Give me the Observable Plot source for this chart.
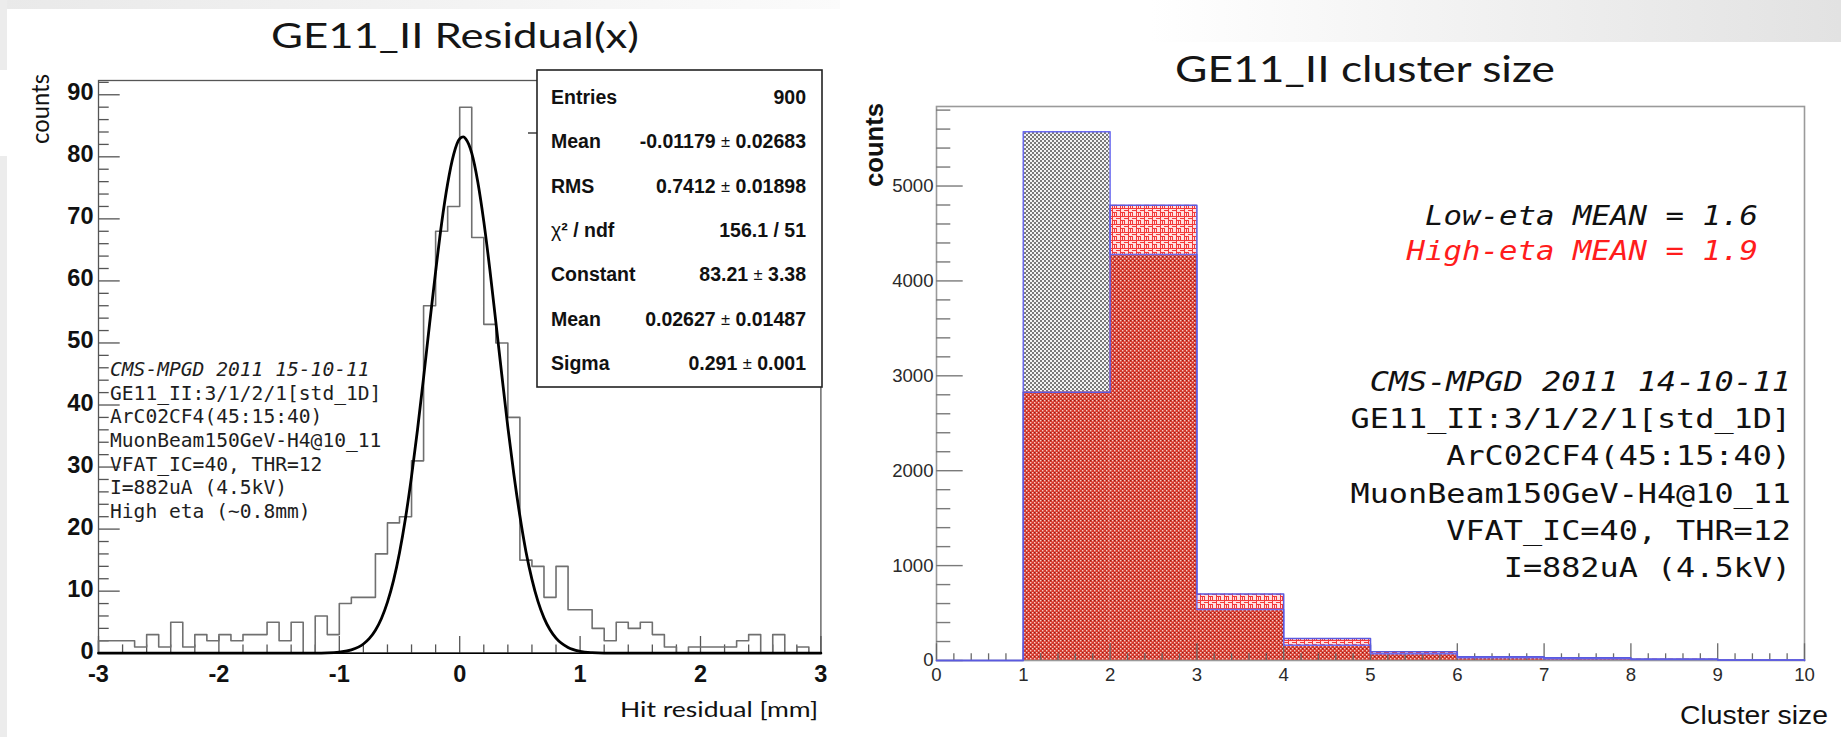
<!DOCTYPE html>
<html>
<head>
<meta charset="utf-8">
<script src="https://cdn.jsdelivr.net/npm/d3@7"></script>
<script src="https://cdn.jsdelivr.net/npm/@observablehq/plot@0.6"></script>
<style>
html,body{margin:0;padding:0;background:#fff;}
#page{position:relative;width:1841px;height:737px;overflow:hidden;background:#fff;}
#bgTopLeft{position:absolute;left:0;top:0;width:840px;height:9px;background:linear-gradient(to right,#e9e9e9,#fbfbfb);}
#bgLeft{position:absolute;left:0;top:0;width:7px;height:737px;background:#ececec;}
#bgTopRight{position:absolute;left:1150px;top:0;width:691px;height:42px;background:linear-gradient(to right,rgba(230,230,230,0),#e2e2e2);}
#page svg{position:absolute;top:0;}
</style>
</head>
<body>
<div id="page">
  <div id="bgTopLeft"></div>
  <div id="bgLeft"></div>
  <div id="bgTopRight"></div>
</div>
<script>
// ---------------- DATA : left panel (hit residual histogram) ----------------
const resBinLow = [-3.0,-2.9,-2.8,-2.7,-2.6,-2.5,-2.4,-2.3,-2.2,-2.1,-2.0,-1.9,-1.8,-1.7,-1.6,-1.5,-1.4,-1.3,-1.2,-1.1,
                   -1.0,-0.9,-0.8,-0.7,-0.6,-0.5,-0.4,-0.3,-0.2,-0.1,0.0,0.1,0.2,0.3,0.4,0.5,0.6,0.7,0.8,0.9,
                   1.0,1.1,1.2,1.3,1.4,1.5,1.6,1.7,1.8,1.9,2.0,2.1,2.2,2.3,2.4,2.5,2.6,2.7,2.8,2.9];
const resCounts = [2,2,2,1,3,1,5,1,3,2, 3,2,3,3,5,2,5,0,6,3,
                   8,9,9,16,21,22,31,56,68,72, 88,67,53,50,38,15,14,9,14,7,
                   7,4,2,5,4,5,3,1,0,1, 1,1,1,2,3,0,3,0,1,0];
const resRangeEnd = 3.0;
// gaussian fit curve
const fitX = [-3,-1.2,-1.1,-1.0,-0.9,-0.8,-0.75,-0.7,-0.65,-0.6,-0.55,-0.5,-0.45,-0.4,-0.35,-0.3,-0.25,-0.2,-0.15,-0.1,
              -0.05,0,0.03,0.05,0.1,0.15,0.2,0.25,0.3,0.35,0.4,0.45,0.5,0.55,0.6,0.65,0.7,0.75,0.8,0.9,1.0,1.1,1.2,3];
const fitY = [0,0.01,0.04,0.17,0.53,1.48,2.38,3.7,5.6,8.23,11.7,16.2,21.8,28.5,36.1,44.4,53.1,61.5,69.3,75.7,
              80.4,82.9,83.2,82.9,80.6,76.0,69.6,61.9,53.4,44.8,36.4,28.8,22.1,16.4,11.9,8.35,5.69,3.77,2.42,0.92,0.31,0.09,0.02,0];
const xTicksLeft = [-3,-2,-1,0,1,2,3];
const yTicksLeft = [0,10,20,30,40,50,60,70,80,90];
const statLabels = ["Entries","Mean","RMS","χ² / ndf","Constant","Mean","Sigma"];
const statValues = ["900","-0.01179 ± 0.02683","0.7412 ± 0.01898","156.1 / 51","83.21 ± 3.38","0.02627 ± 0.01487","0.291 ± 0.001"];
const leftInfo = ["CMS-MPGD 2011 15-10-11","GE11_II:3/1/2/1[std_1D]","ArC02CF4(45:15:40)","MuonBeam150GeV-H4@10_11","VFAT_IC=40, THR=12","I=882uA (4.5kV)","High eta (~0.8mm)"];
const leftTitle = "GE11_II Residual(x)";
const leftXLabel = "Hit residual [mm]";
const leftYLabel = "counts";

// ---------------- DATA : right panel (cluster size) ----------------
const clusterLow  = [0,1,2,3,4,5,6,7,8,9];
const clusterHigh = [1,2,3,4,5,6,7,8,9,10];
const lowEtaCounts  = [0,5572,4279,537,160,70,28,18,10,4];
const highEtaCounts = [0,2828,4797,702,231,93,40,28,15,6];
const xTicksRight = [0,1,2,3,4,5,6,7,8,9,10];
const yTicksRight = [0,1000,2000,3000,4000,5000];
const meanLines = ["Low-eta MEAN = 1.6","High-eta MEAN = 1.9"];
const rightInfo = ["CMS-MPGD 2011 14-10-11","GE11_II:3/1/2/1[std_1D]","ArC02CF4(45:15:40)","MuonBeam150GeV-H4@10_11","VFAT_IC=40, THR=12","I=882uA (4.5kV)"];
const rightTitle = "GE11_II cluster size";
const rightXLabel = "Cluster size";
const rightYLabel = "counts";

// ---------------- derived tables ----------------
const resStep = [{x:-3,y:0}, ...resBinLow.map((e,i)=>({x:e,y:resCounts[i]})), {x:resRangeEnd,y:resCounts[resCounts.length-1]}, {x:resRangeEnd,y:0}];
const fitPts = fitX.map((x,i)=>({x, y:fitY[i]}));
const yMinorLeft = d3.range(0, 92.3, 2).filter(v => v % 10 !== 0);
const xMinorLeft = d3.range(-3, 3.001, 0.2).map(v => +v.toFixed(2)).filter(v => Math.abs(v - Math.round(v)) > 1e-6);

const rowsLow  = clusterLow.map((x1,i)=>({x1, x2:clusterHigh[i], y1:0, y2:lowEtaCounts[i]}));
const rowsHigh = clusterLow.map((x1,i)=>({x1, x2:clusterHigh[i], y1:0, y2:highEtaCounts[i]}));
const rowsOver = clusterLow.map((x1,i)=>({x1, x2:clusterHigh[i], y1:0, y2:Math.min(lowEtaCounts[i], highEtaCounts[i])}));
const stepOf = vals => [{x:0,y:0}, ...clusterLow.map((e,i)=>({x:e,y:vals[i]})), {x:10,y:vals[vals.length-1]}, {x:10,y:0}];
const yMinorRight = d3.range(0, 5838, 200).filter(v => v % 1000 !== 0);
const xMinorRight = d3.range(0, 10.001, 0.2).map(v => +v.toFixed(2)).filter(v => Math.abs(v - Math.round(v)) > 1e-6);

const helv = "Liberation Sans, Arial, Helvetica, sans-serif";
const page = document.getElementById("page");

// ---------------- LEFT PLOT ----------------
const leftPlot = Plot.plot({
  width: 840, height: 737,
  marginLeft: 98, marginRight: 19.6, marginTop: 80, marginBottom: 84.3,
  x: {domain: [-3, 3], axis: null},
  y: {domain: [0, 92.3], axis: null},
  style: {background: "transparent", overflow: "visible"},
  marks: [
    Plot.frame({stroke: "#555", strokeWidth: 1.3}),
    Plot.tickY(yMinorLeft, {y: d => d, stroke: "#555", strokeWidth: 1.3, insetRight: 711.7}),
    Plot.tickY(yTicksLeft, {y: d => d, stroke: "#555", strokeWidth: 1.3, insetRight: 700.7}),
    Plot.tickX(xMinorLeft, {x: d => d, stroke: "#555", strokeWidth: 1.3, insetTop: 564.4}),
    Plot.tickX(xTicksLeft, {x: d => d, stroke: "#555", strokeWidth: 1.3, insetTop: 556}),
    Plot.line(resStep, {x: "x", y: "y", curve: "step-after", stroke: "#707070", strokeWidth: 1.6}),
    Plot.ruleY([0], {stroke: "#000", strokeWidth: 1.5}),
    Plot.line(fitPts, {x: "x", y: "y", curve: "monotone-x", stroke: "#000", strokeWidth: 2.8}),
    Plot.text(yTicksLeft, {x: () => -3, y: d => d, text: d => String(d), textAnchor: "end", dx: -5, dy: -2,
      fontSize: 23.5, fontWeight: "bold", fontFamily: helv, fill: "#111"}),
    Plot.text(xTicksLeft, {x: d => d, y: () => 0, text: d => String(d), dy: 21,
      fontSize: 23.5, fontWeight: "bold", fontFamily: helv, fill: "#111"})
  ]
});
leftPlot.style.left = "0px";
page.appendChild(leftPlot);

// ---------------- RIGHT PLOT ----------------
const rightPlot = Plot.plot({
  width: 1001, height: 737,
  marginLeft: 96, marginRight: 37, marginTop: 106, marginBottom: 77,
  x: {domain: [0, 10], axis: null},
  y: {domain: [0, 5838], axis: null},
  style: {background: "transparent", overflow: "visible"},
  marks: [
    Plot.rect(rowsLow,  {x1: "x1", x2: "x2", y1: "y1", y2: "y2", fill: "url(#grayPat)", inset: 0}),
    Plot.rect(rowsHigh, {x1: "x1", x2: "x2", y1: "y1", y2: "y2", fill: "url(#redPat)", inset: 0}),
    Plot.rect(rowsOver, {x1: "x1", x2: "x2", y1: "y1", y2: "y2", fill: "url(#ovPat)", inset: 0}),
    Plot.frame({stroke: "#9a9a9a", strokeWidth: 1.6}),
    Plot.tickY(yMinorRight, {y: d => d, stroke: "#7a7a7a", strokeWidth: 1.4, insetRight: 853.7}),
    Plot.tickY(yTicksRight, {y: d => d, stroke: "#7a7a7a", strokeWidth: 1.4, insetRight: 841.3}),
    Plot.tickX(xMinorRight, {x: d => d, stroke: "#6a6a6a", strokeWidth: 1.3, insetTop: 547.3}),
    Plot.tickX(xTicksRight, {x: d => d, stroke: "#6a6a6a", strokeWidth: 1.3, insetTop: 537.3}),
    Plot.line(stepOf(lowEtaCounts),  {x: "x", y: "y", curve: "step-after", stroke: "#6b6bf0", strokeWidth: 1.5}),
    Plot.line(stepOf(highEtaCounts), {x: "x", y: "y", curve: "step-after", stroke: "#5a5ae0", strokeWidth: 1.5}),
    Plot.text(yTicksRight, {x: () => 0, y: d => d, text: d => String(d), textAnchor: "end", dx: -3,
      fontSize: 18.6, fontFamily: helv, fill: "#2a2a2a"}),
    Plot.text(xTicksRight, {x: d => d, y: () => 0, text: d => String(d), dy: 15,
      fontSize: 18.6, fontFamily: helv, fill: "#2a2a2a"})
  ]
});
rightPlot.style.left = "840px";
page.appendChild(rightPlot);

// ---------------- OVERLAY (patterns, titles, boxes, annotations) ----------------
const ov = d3.select(page).append("svg")
  .attr("width", 1841).attr("height", 737)
  .style("left", "0px").style("top", "0px").style("pointer-events", "none");
const defs = ov.append("defs");
const gp = defs.append("pattern").attr("id", "grayPat").attr("patternUnits", "userSpaceOnUse").attr("width", 4).attr("height", 4);
gp.append("rect").attr("width", 4).attr("height", 4).attr("fill", "#f4f4f4");
gp.append("rect").attr("width", 2).attr("height", 2).attr("fill", "#7a7a7a");
gp.append("rect").attr("x", 2).attr("y", 2).attr("width", 2).attr("height", 2).attr("fill", "#7a7a7a");
const rp = defs.append("pattern").attr("id", "redPat").attr("patternUnits", "userSpaceOnUse").attr("width", 8).attr("height", 8);
rp.append("rect").attr("width", 8).attr("height", 8).attr("fill", "#ffe0e0");
rp.append("path").attr("d", "M0 0.5H8M0.5 0V8M0 4.5H4M4.5 4V8M4 2.5H8M2.5 4V8").attr("stroke", "#f23a3a").attr("stroke-width", 1).attr("fill", "none");
const op = defs.append("pattern").attr("id", "ovPat").attr("patternUnits", "userSpaceOnUse").attr("width", 4).attr("height", 4);
op.append("rect").attr("width", 4).attr("height", 4).attr("fill", "#d5382c");
op.append("rect").attr("x", 0).attr("y", 0).attr("width", 1.4).attr("height", 1.4).attr("fill", "#f6cdc6");
op.append("rect").attr("x", 2).attr("y", 2).attr("width", 1.4).attr("height", 1.4).attr("fill", "#f6cdc6");
op.append("rect").attr("x", 2).attr("y", 0).attr("width", 1).attr("height", 1).attr("fill", "#8a2218");

function txt(o) {
  const t = ov.append("text")
    .attr("x", o.x).attr("y", o.y)
    .attr("font-family", o.family || helv)
    .attr("font-size", o.size)
    .attr("font-weight", o.weight || "normal")
    .attr("font-style", o.style || "normal")
    .attr("fill", o.fill || "#111")
    .attr("text-anchor", o.anchor || "start")
    .attr("dominant-baseline", o.baseline || "central")
    .style("white-space", "pre")
    .text(o.text);
  if (o.len) t.attr("textLength", o.len).attr("lengthAdjust", "spacingAndGlyphs");
  if (o.rotate) t.attr("transform", `rotate(${o.rotate},${o.x},${o.y})`);
  return t;
}

// white patch behind left "counts"
ov.append("rect").attr("x", 0).attr("y", 70).attr("width", 22).attr("height", 86).attr("fill", "#fff");

// titles and axis titles
txt({x: 271, y: 48, text: leftTitle, size: 34, family: "Lato, Open Sans, sans-serif", len: 368, baseline: "alphabetic", fill: "#151515"});
txt({x: 1175, y: 82, text: rightTitle, size: 37, family: "Lato, Open Sans, sans-serif", len: 380, baseline: "alphabetic", fill: "#151515"});
txt({x: 39, y: 109, text: leftYLabel, size: 25, family: "Lato, Open Sans, sans-serif", len: 70, anchor: "middle", rotate: -90});
txt({x: 620, y: 708, text: leftXLabel, size: 21, family: "Lato, Open Sans, sans-serif", len: 198});
txt({x: 874, y: 145, text: rightYLabel, size: 26, weight: "bold", len: 84, anchor: "middle", rotate: -90});
txt({x: 1680, y: 715, text: rightXLabel, size: 26, len: 148});

// stats box
ov.append("line").attr("x1", 528).attr("x2", 537).attr("y1", 133).attr("y2", 133).attr("stroke", "#333").attr("stroke-width", 1.4);
ov.append("rect").attr("x", 537).attr("y", 70).attr("width", 285).attr("height", 317)
  .attr("fill", "#fff").attr("stroke", "#222").attr("stroke-width", 1.6);
statLabels.forEach((lab, i) => {
  const y = 97 + 44.3 * i;
  const t = ov.append("text").attr("x", 551).attr("y", y).attr("font-family", helv).attr("font-size", 19.5)
    .attr("font-weight", "bold").attr("fill", "#111").attr("dominant-baseline", "central").style("white-space", "pre");
  if (lab.startsWith("χ")) {
    t.append("tspan").attr("font-weight", "normal").text("χ");
    t.append("tspan").text(lab.slice(1));
  } else t.text(lab);
  const v = ov.append("text").attr("x", 806).attr("y", y).attr("font-family", helv).attr("font-size", 19.5)
    .attr("font-weight", "bold").attr("fill", "#111").attr("text-anchor", "end").attr("dominant-baseline", "central").style("white-space", "pre");
  const parts = statValues[i].split("±");
  parts.forEach((p, k) => {
    if (k > 0) v.append("tspan").attr("font-weight", "normal").attr("font-size", 16.5).text("±");
    v.append("tspan").text(p);
  });
});

// left annotation block
leftInfo.forEach((s, i) => {
  txt({x: 110, y: 369.3 + 23.7 * i, text: s, size: 19.8, family: "DejaVu Sans Mono, monospace",
       style: i === 0 ? "italic" : "normal", fill: "#1e1e1e", len: s.length * 11.8});
});

// right annotation block
meanLines.forEach((s, i) => {
  txt({x: 1758, y: 215.7 + 35.1 * i, text: s, size: 26, family: "DejaVu Sans Mono, monospace",
       style: "italic", anchor: "end", fill: i === 0 ? "#111" : "#ff1c1c", len: s.length * 18.5});
});
rightInfo.forEach((s, i) => {
  txt({x: 1791, y: 381.7 + 37.3 * i, text: s, size: 26, family: "DejaVu Sans Mono, monospace",
       style: i === 0 ? "italic" : "normal", anchor: "end", fill: "#111", len: s.length * 19.15});
});
</script>
</body>
</html>
